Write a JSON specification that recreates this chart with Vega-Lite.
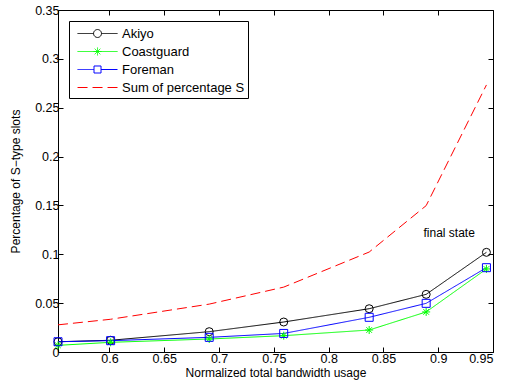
{
  "$schema": "https://vega.github.io/schema/vega-lite/v6.json",
  "width": 435,
  "height": 342,
  "autosize": {"type": "none"},
  "padding": {"left": 58, "top": 10, "right": 13, "bottom": 40},
  "background": "white",
  "config": {
    "view": {"stroke": "black", "strokeWidth": 1},
    "font": "Liberation Sans",
    "axis": {
      "domain": false,
      "grid": false,
      "tickColor": "black",
      "tickSize": -5,
      "labelColor": "black",
      "titleColor": "black",
      "labelFont": "Liberation Sans",
      "titleFont": "Liberation Sans",
      "labelFontSize": 12.5,
      "titleFontSize": 12,
      "titleFontWeight": "normal"
    }
  },
  "datasets": {
    "series": [
      {"x": 0.553, "y": 0.0105, "series": "Akiyo"},
      {"x": 0.601, "y": 0.012, "series": "Akiyo"},
      {"x": 0.691, "y": 0.0208, "series": "Akiyo"},
      {"x": 0.759, "y": 0.0307, "series": "Akiyo"},
      {"x": 0.837, "y": 0.0443, "series": "Akiyo"},
      {"x": 0.889, "y": 0.059, "series": "Akiyo"},
      {"x": 0.944, "y": 0.102, "series": "Akiyo"},
      {"x": 0.553, "y": 0.0068, "series": "Coastguard"},
      {"x": 0.601, "y": 0.0099, "series": "Coastguard"},
      {"x": 0.691, "y": 0.0133, "series": "Coastguard"},
      {"x": 0.759, "y": 0.0167, "series": "Coastguard"},
      {"x": 0.837, "y": 0.0225, "series": "Coastguard"},
      {"x": 0.889, "y": 0.041, "series": "Coastguard"},
      {"x": 0.944, "y": 0.085, "series": "Coastguard"},
      {"x": 0.553, "y": 0.0105, "series": "Foreman"},
      {"x": 0.601, "y": 0.0116, "series": "Foreman"},
      {"x": 0.691, "y": 0.015, "series": "Foreman"},
      {"x": 0.759, "y": 0.019, "series": "Foreman"},
      {"x": 0.837, "y": 0.0355, "series": "Foreman"},
      {"x": 0.889, "y": 0.0498, "series": "Foreman"},
      {"x": 0.944, "y": 0.0863, "series": "Foreman"},
      {"x": 0.553, "y": 0.0278, "series": "Sum of percentage S"},
      {"x": 0.601, "y": 0.0335, "series": "Sum of percentage S"},
      {"x": 0.691, "y": 0.049, "series": "Sum of percentage S"},
      {"x": 0.759, "y": 0.0664, "series": "Sum of percentage S"},
      {"x": 0.837, "y": 0.1023, "series": "Sum of percentage S"},
      {"x": 0.889, "y": 0.1498, "series": "Sum of percentage S"},
      {"x": 0.944, "y": 0.2733, "series": "Sum of percentage S"}
    ],
    "notes": [
      {"x": 0.91, "y": 0.122, "label": "final state"}
    ]
  },
  "layer": [
    {
      "data": {"name": "series"},
      "mark": {"type": "line", "strokeWidth": 1},
      "encoding": {
        "x": {
          "field": "x", "type": "quantitative",
          "scale": {"domain": [0.553, 0.95], "nice": false, "zero": false},
          "axis": {"values": [0.6, 0.65, 0.7, 0.75, 0.8, 0.85, 0.9, 0.95], "format": ".2~f", "title": "Normalized total bandwidth usage", "labelPadding": 5, "titlePadding": 3}
        },
        "y": {
          "field": "y", "type": "quantitative",
          "scale": {"domain": [0, 0.35], "nice": false},
          "axis": {"values": [0, 0.05, 0.1, 0.15, 0.2, 0.25, 0.3, 0.35], "format": ".2~f", "title": "Percentage of S−type slots", "labelPadding": 4, "titlePadding": 12}
        },
        "color": {
          "field": "series", "type": "nominal",
          "scale": {"domain": ["Akiyo", "Coastguard", "Foreman", "Sum of percentage S"], "range": ["black", "#00ff00", "blue", "red"]},
          "legend": {
            "title": null,
            "orient": "top-left",
            "offset": 11,
            "padding": 3,
            "rowPadding": 1,
            "strokeColor": "black",
            "fillColor": "white",
            "symbolSize": 324,
            "symbolStrokeWidth": 1,
            "labelOffset": 31,
            "labelFont": "Liberation Sans",
            "labelFontSize": 13,
            "labelColor": "black",
            "labelLimit": 300,
            "encode": {
              "symbols": {
                "update": {
                  "shape": {"signal": "datum.value === 'Akiyo' ? 'M-0.44,0L1.34,0M2.22,0L4,0M1.34,0A0.44,0.44 0 1,1 2.22,0A0.44,0.44 0 1,1 1.34,0' : datum.value === 'Coastguard' ? 'M-0.44,0L4,0M1.34,0L2.22,0M1.78,-0.44L1.78,0.44M1.47,-0.31L2.09,0.31M1.47,0.31L2.09,-0.31' : datum.value === 'Foreman' ? 'M-0.44,0L1.39,0M2.17,0L4,0M1.39,-0.39L2.17,-0.39L2.17,0.39L1.39,0.39Z' : 'M-0.44,0L4,0'"},
                  "strokeDash": {"signal": "datum.value === 'Sum of percentage S' ? [9,5] : [1,0]"},
                  "fill": {"value": "transparent"},
                  "stroke": {"scale": "color", "field": "value"},
                  "strokeWidth": {"value": 1},
                  "opacity": {"value": 1}
                }
              }
            }
          }
        },
        "strokeDash": {
          "field": "series", "type": "nominal",
          "scale": {"domain": ["Akiyo", "Coastguard", "Foreman", "Sum of percentage S"], "range": [[1, 0], [1, 0], [1, 0], [10, 5]]},
          "legend": null
        }
      }
    },
    {
      "data": {"name": "series"},
      "transform": [{"filter": "datum.series !== 'Sum of percentage S'"}],
      "mark": {"type": "point", "filled": false, "strokeWidth": 1, "size": 64, "opacity": 1},
      "encoding": {
        "x": {"field": "x", "type": "quantitative", "axis": null},
        "y": {"field": "y", "type": "quantitative", "axis": null},
        "color": {"field": "series", "type": "nominal"},
        "shape": {
          "field": "series", "type": "nominal",
          "scale": {"domain": ["Akiyo", "Coastguard", "Foreman"], "range": ["circle", "M-1,0L1,0M0,-1L0,1M-0.7,-0.7L0.7,0.7M-0.7,0.7L0.7,-0.7", "square"]},
          "legend": null
        }
      }
    },
    {
      "data": {"name": "notes"},
      "mark": {"type": "text", "font": "Liberation Sans", "fontSize": 12, "color": "black", "align": "center", "baseline": "middle"},
      "encoding": {
        "x": {"field": "x", "type": "quantitative", "axis": {"orient": "top", "values": [0.6, 0.65, 0.7, 0.75, 0.8, 0.85, 0.9, 0.95], "labels": false, "title": null}},
        "y": {"field": "y", "type": "quantitative", "axis": {"orient": "right", "values": [0, 0.05, 0.1, 0.15, 0.2, 0.25, 0.3, 0.35], "labels": false, "title": null}},
        "text": {"field": "label"}
      }
    }
  ],
  "resolve": {"axis": {"x": "independent", "y": "independent"}}
}
